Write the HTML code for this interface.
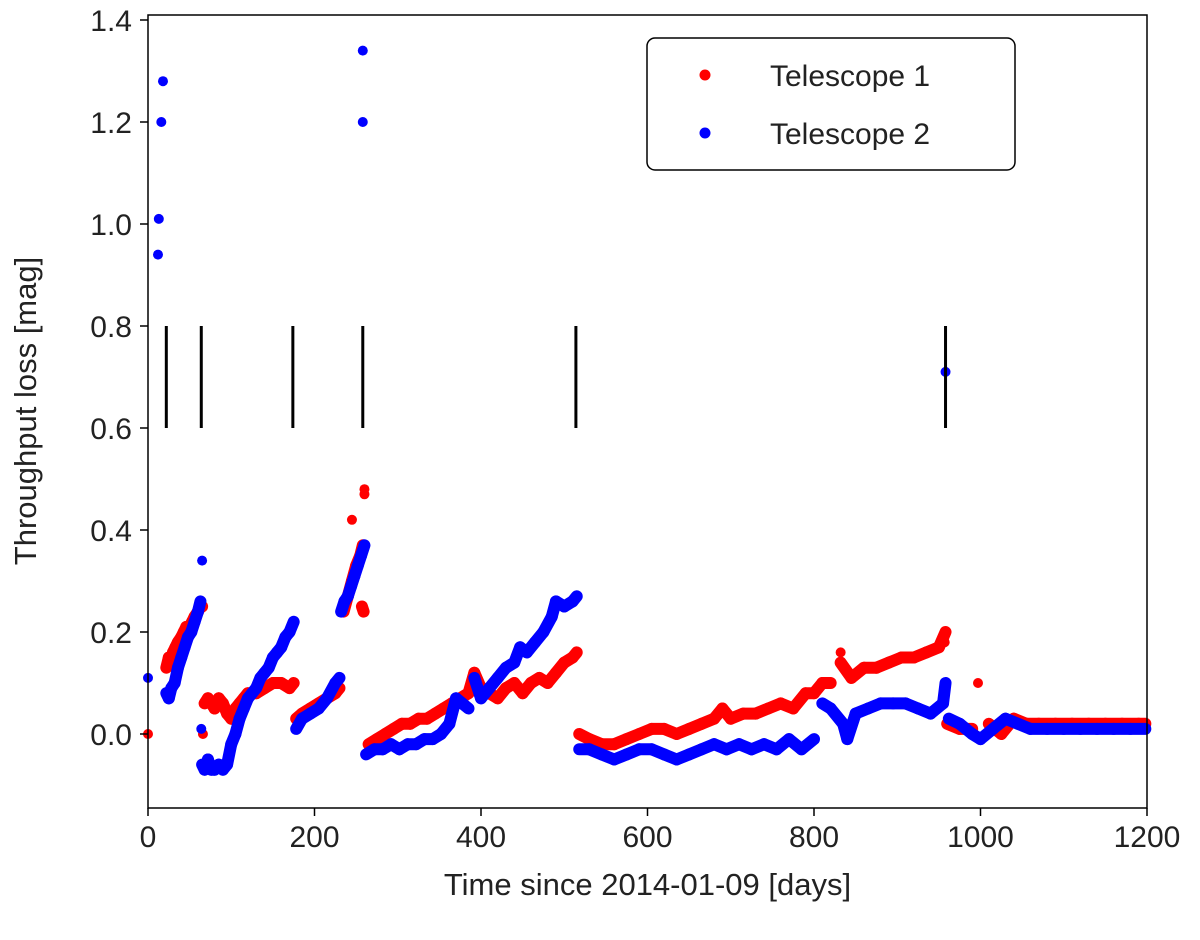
<!DOCTYPE html>
<html><head><meta charset="utf-8"><style>
body{margin:0;background:#fff;}
svg text{font-family:"Liberation Sans","DejaVu Sans",sans-serif;fill:#222;}
</style></head><body>
<svg id="chart" width="1200" height="935" viewBox="0 0 1200 935" xmlns="http://www.w3.org/2000/svg">
<g id="marks"></g>
<g id="axes"></g>
</svg>
<script>
const xTicks=[0,200,400,600,800,1000,1200];
const yTicks=[0.0,0.2,0.4,0.6,0.8,1.0,1.2,1.4];
const eventDays=[22,64,174,258,514,958];
const t1Days=[0,22,25,28,30,33,36,40,43,46,50,53,56,60,63,65,66,68,72,76,80,85,90,95,100,105,110,115,120,130,140,150,160,170,175,178,185,195,205,215,225,230,235,240,245,250,255,258,260,260,257,259,245,265,275,285,295,305,315,325,335,345,355,365,375,385,392,400,410,420,430,440,450,460,470,480,490,500,510,515,518,530,545,560,575,590,605,620,635,650,665,680,690,700,715,730,745,760,775,790,800,810,820,832,832,845,860,875,890,905,920,935,950,958,957,960,975,990,997,1010,1025,1040,1055,1070,1090,1110,1130,1150,1170,1190,1198];
const t1Vals=[0.0,0.13,0.15,0.14,0.16,0.17,0.18,0.19,0.2,0.21,0.21,0.22,0.23,0.24,0.25,0.25,0.0,0.06,0.07,0.06,0.05,0.07,0.06,0.04,0.03,0.05,0.06,0.07,0.08,0.08,0.09,0.1,0.1,0.09,0.1,0.03,0.04,0.05,0.06,0.07,0.08,0.09,0.24,0.27,0.3,0.33,0.35,0.37,0.48,0.47,0.25,0.24,0.42,-0.02,-0.01,0.0,0.01,0.02,0.02,0.03,0.03,0.04,0.05,0.06,0.07,0.08,0.12,0.09,0.08,0.07,0.09,0.1,0.08,0.1,0.11,0.1,0.12,0.14,0.15,0.16,0.0,-0.01,-0.02,-0.02,-0.01,0.0,0.01,0.01,0.0,0.01,0.02,0.03,0.05,0.03,0.04,0.04,0.05,0.06,0.05,0.08,0.08,0.1,0.1,0.16,0.14,0.11,0.13,0.13,0.14,0.15,0.15,0.16,0.17,0.2,0.18,0.02,0.01,0.01,0.1,0.02,0.0,0.03,0.02,0.02,0.02,0.02,0.02,0.02,0.02,0.02,0.02];
const t2Days=[0,12,13,16,18,22,25,28,32,36,40,44,48,52,56,60,63,65,64,65,68,72,76,80,85,90,95,100,105,110,115,120,125,130,135,140,145,150,155,160,165,170,175,178,185,195,205,215,225,230,232,236,240,244,248,252,256,260,258,258,262,272,282,292,302,312,322,332,342,352,362,370,385,392,400,410,420,430,440,447,455,465,475,485,490,500,510,515,518,530,545,560,575,590,605,620,635,650,665,680,695,710,725,740,755,770,785,800,810,820,835,840,850,865,880,895,910,925,940,955,958,958,962,975,990,1000,1015,1030,1045,1060,1080,1100,1120,1140,1160,1180,1198];
const t2Vals=[0.11,0.94,1.01,1.2,1.28,0.08,0.07,0.09,0.1,0.13,0.15,0.17,0.19,0.2,0.22,0.24,0.26,0.34,0.01,-0.06,-0.07,-0.05,-0.07,-0.07,-0.06,-0.07,-0.06,-0.02,0.0,0.03,0.05,0.07,0.08,0.09,0.11,0.12,0.13,0.15,0.16,0.17,0.19,0.2,0.22,0.01,0.03,0.04,0.05,0.07,0.1,0.11,0.24,0.26,0.27,0.29,0.31,0.33,0.35,0.37,1.34,1.2,-0.04,-0.03,-0.03,-0.02,-0.03,-0.02,-0.02,-0.01,-0.01,0.0,0.02,0.07,0.05,0.11,0.07,0.09,0.11,0.13,0.14,0.17,0.16,0.18,0.2,0.23,0.26,0.25,0.26,0.27,-0.03,-0.03,-0.04,-0.05,-0.04,-0.03,-0.03,-0.04,-0.05,-0.04,-0.03,-0.02,-0.03,-0.02,-0.03,-0.02,-0.03,-0.01,-0.03,-0.01,0.06,0.05,0.02,-0.01,0.04,0.05,0.06,0.06,0.06,0.05,0.04,0.06,0.1,0.71,0.03,0.02,0.0,-0.01,0.01,0.03,0.02,0.01,0.01,0.01,0.01,0.01,0.01,0.01,0.01];

const L=148,R=1147,T=15,B=808;
const xS=d=>L+(d-0)/1200*(R-L);
const yS=v=>734-510*v;
const NS="http://www.w3.org/2000/svg";
function mk(tag,attrs,parent){const e=document.createElementNS(NS,tag);for(const k in attrs)e.setAttribute(k,attrs[k]);parent.appendChild(e);return e;}
const marks=document.getElementById('marks');
const axes=document.getElementById('axes');

function drawSeries(days,vals,color,name){
  const g=mk('g',{},marks);
  
  
  for(let i=1;i<days.length;i++){
    const dd=days[i]-days[i-1], dv=Math.abs(vals[i]-vals[i-1]);
    if(dd>0&&dd<=25&&dv<0.06){
      const ln=mk('line',{x1:xS(days[i-1]),y1:yS(vals[i-1]),x2:xS(days[i]),y2:yS(vals[i]),stroke:color,'stroke-width':12,'stroke-linecap':'round'},g);
      
      
    }
  }
  for(let i=0;i<days.length;i++){
    const c=mk('circle',{cx:xS(days[i]),cy:yS(vals[i]),r:5,fill:color},g);
    
    
  }
}
drawSeries(t1Days,t1Vals,'#ff0000','telescope-1-series');
drawSeries(t2Days,t2Vals,'#0000ff','telescope-2-series');

eventDays.forEach(d=>{
  const ln=mk('line',{x1:xS(d),x2:xS(d),y1:yS(0.6),y2:yS(0.8),stroke:'#000','stroke-width':3},marks);
  
  
});

const frame=mk('rect',{x:L,y:T,width:R-L,height:B-T,fill:'none',stroke:'#000','stroke-width':1.5},axes);



xTicks.forEach(t=>{
  const x=xS(t);
  const tk=mk('line',{x1:x,x2:x,y1:B,y2:B+8,stroke:'#000','stroke-width':1.5},axes);
  
  
  const tx=mk('text',{x:x,y:B+39,'text-anchor':'middle','font-size':30},axes);
  tx.textContent=String(t);
  
  
});
yTicks.forEach(t=>{
  const y=yS(t);
  const tk=mk('line',{x1:L-8,x2:L,y1:y,y2:y,stroke:'#000','stroke-width':1.5},axes);
  
  
  const tx=mk('text',{x:L-16,y:y+11,'text-anchor':'end','font-size':30},axes);
  tx.textContent=t.toFixed(1);
  
  
});
const xl=mk('text',{x:(L+R)/2,y:895,'text-anchor':'middle','font-size':31},axes);
xl.textContent='Time since 2014-01-09  [days]';


const yl=mk('text',{x:0,y:0,'text-anchor':'middle','font-size':31,transform:'translate(36,411) rotate(-90)'},axes);
yl.textContent='Throughput loss  [mag]';



const lg=mk('g',{},axes);


const lb=mk('rect',{x:647,y:38,width:368,height:132,rx:8,fill:'#fff',stroke:'#000','stroke-width':1.5},lg);


[['#ff0000','Telescope 1',75],['#0000ff','Telescope 2',133]].forEach(([c,label,y])=>{
  const d=mk('circle',{cx:705,cy:y,r:5.5,fill:c},lg);
  
  
  const t=mk('text',{x:770,y:y+11,'font-size':30},lg);
  t.textContent=label;
  
  
});
</script>
</body></html>
